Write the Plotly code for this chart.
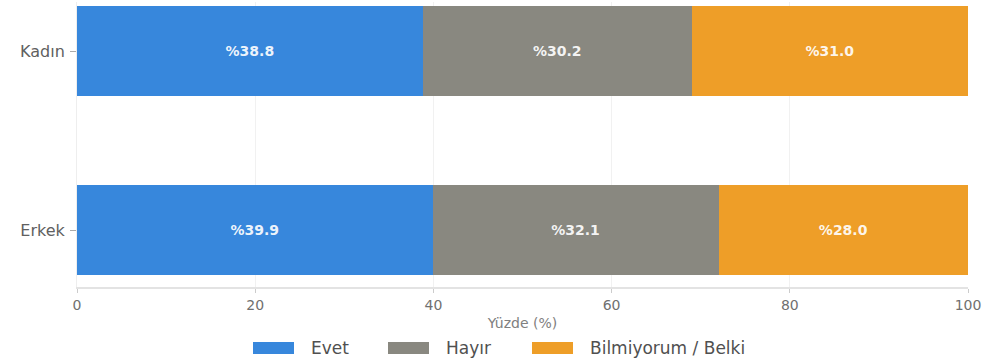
import plotly.graph_objects as go

# Survey answers by gender (percent of respondents)
groups = ["Erkek", "Kadın"]
answers = ["Evet", "Hayır", "Bilmiyorum / Belki"]
evet = [39.9, 38.8]
hayir = [32.1, 30.2]
bilmiyorum = [28.0, 31.0]
x_ticks = [0, 20, 40, 60, 80, 100]

colors = ["#3787dc", "#898880", "#ee9e28"]
series = [evet, hayir, bilmiyorum]

fig = go.Figure()
for name, vals, col in zip(answers, series, colors):
    fig.add_trace(go.Bar(
        y=groups, x=vals, name=name, orientation="h",
        width=0.5,
        marker=dict(color=col, line=dict(width=0)),
        text=[f"%{v:.1f}" for v in vals],
        textposition="inside", insidetextanchor="middle",
        textfont=dict(family="DejaVu Sans", size=14, color="rgba(255,255,255,0.92)", weight="bold"),
        showlegend=False,
        hoverinfo="skip",
    ))

# Legend drawn as wide swatches with labels underneath the axis
W, L, T, B = 891.0, 77.0, 2.0, 287.0
H = B - T
def px(x):
    return (x - L) / W
def py(y):
    return (B - y) / H

swatch_x = [253, 388, 532]
label_x = [309, 444, 588]
shapes = []
annotations = []
for name, col, sx, lx in zip(answers, colors, swatch_x, label_x):
    shapes.append(dict(type="rect", xref="paper", yref="paper",
                       x0=px(sx), x1=px(sx + 41), y0=py(354), y1=py(342),
                       fillcolor=col, line=dict(width=0)))
    annotations.append(dict(xref="paper", yref="paper", x=px(lx), y=py(348),
                            text=name, showarrow=False, xanchor="left", yanchor="middle",
                            font=dict(family="DejaVu Sans", size=17, color="#505050")))

fig.update_layout(
    width=988, height=363,
    margin=dict(l=77, r=20, t=2, b=76),
    paper_bgcolor="white", plot_bgcolor="white",
    barmode="stack", bargap=0.5,
    shapes=shapes, annotations=annotations,
    font=dict(family="DejaVu Sans", color="#555555"),
)
fig.update_xaxes(
    range=[0, 100], tickvals=x_ticks, ticktext=[str(t) for t in x_ticks],
    showgrid=True, gridcolor="#f1f1f1", gridwidth=1,
    showline=True, linecolor="#e3e3e3", linewidth=2,
    ticks="outside", ticklen=4, tickcolor="#cccccc",
    tickfont=dict(family="DejaVu Sans", size=14, color="#707070"),
    title=dict(text="Yüzde (%)", font=dict(family="DejaVu Sans", size=14, color="#808080"), standoff=6),
    zeroline=False,
)
fig.update_yaxes(
    range=[-0.318, 1.274],
    showgrid=False,
    showline=True, linecolor="#eeeeee", linewidth=1,
    ticks="outside", ticklen=6, tickcolor="#aaaaaa",
    tickfont=dict(family="DejaVu Sans", size=16, color="#606060"),
    ticklabelstandoff=2,
)

fig.write_html("out.html")
